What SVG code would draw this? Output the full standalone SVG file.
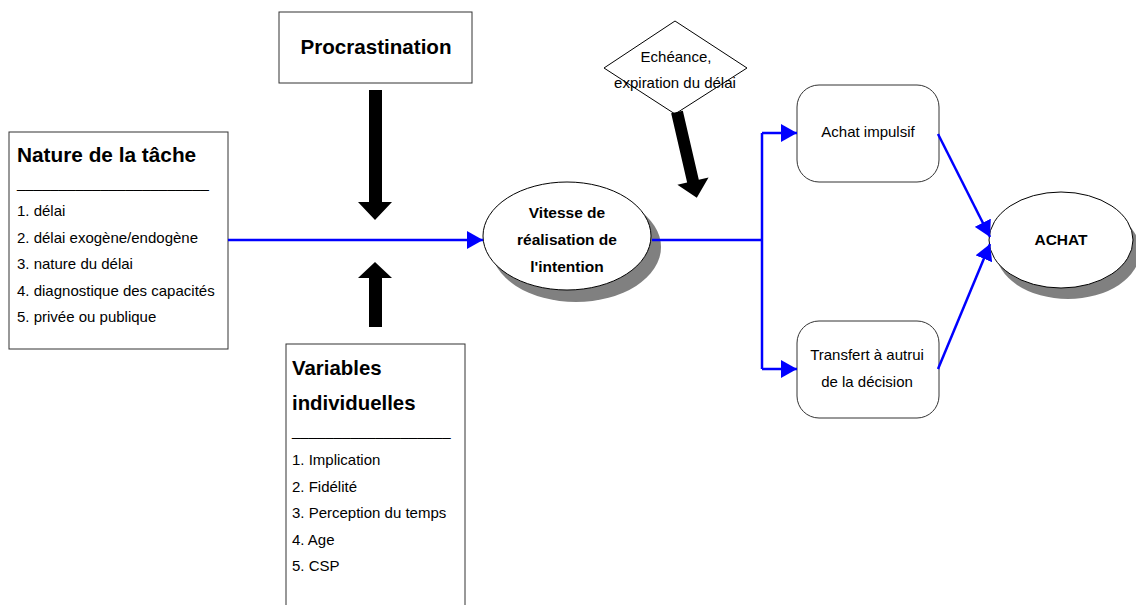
<svg xmlns="http://www.w3.org/2000/svg" width="1136" height="605" viewBox="0 0 1136 605">
<style>
  .box{fill:#fff;stroke:#333;stroke-width:1}
  .ell{fill:#fff;stroke:#000;stroke-width:1}
  .shadow{fill:#808080;stroke:none}
  .t{font-family:"Liberation Sans",Arial,sans-serif;font-size:15px;fill:#000}
  .b{font-family:"Liberation Sans",Arial,sans-serif;font-weight:bold;fill:#000}
  .c{text-anchor:middle}
  .blue{fill:none;stroke:#0000ff;stroke-width:2.5}
  .fat{fill:#000;stroke:none}
</style>
<defs>
  <marker id="ah" markerUnits="userSpaceOnUse" markerWidth="16" markerHeight="18" refX="16" refY="9" orient="auto">
    <path d="M0,0 L16,9 L0,18 Z" fill="#0000ff"/>
  </marker>
</defs>
<rect width="1136" height="605" fill="#fff"/>

<g id="nature">
  <rect class="box" x="9" y="132" width="219" height="217"/>
  <text class="b" x="17" y="162" font-size="20.8">Nature de la tâche</text>
  <text class="t" x="17" y="188">_______________________</text>
  <text class="t" x="17" y="216">1. délai</text>
  <text class="t" x="17" y="243">2. délai exogène/endogène</text>
  <text class="t" x="17" y="269">3. nature du délai</text>
  <text class="t" x="17" y="296">4. diagnostique des capacités</text>
  <text class="t" x="17" y="322">5. privée ou publique</text>
</g>

<g id="procrastination">
  <rect class="box" x="279" y="12" width="193" height="71"/>
  <text class="b c" x="376" y="54" font-size="20.6">Procrastination</text>
</g>

<g id="variables">
  <rect class="box" x="286" y="344" width="179" height="270"/>
  <text class="b" x="292" y="375" font-size="20.4">Variables</text>
  <text class="b" x="292" y="410" font-size="20.4">individuelles</text>
  <text class="t" x="292" y="436">___________________</text>
  <text class="t" x="292" y="465">1. Implication</text>
  <text class="t" x="292" y="492">2. Fidélité</text>
  <text class="t" x="292" y="518">3. Perception du temps</text>
  <text class="t" x="292" y="545">4. Age</text>
  <text class="t" x="292" y="571">5. CSP</text>
</g>

<g id="echeance">
  <polygon class="ell" points="675,21 747,68 675,114 604,68"/>
  <text class="t c" x="676" y="62">Echéance,</text>
  <text class="t c" x="675" y="88">expiration du délai</text>
</g>

<g id="vitesse">
  <ellipse class="shadow" cx="576" cy="247" rx="85" ry="55"/>
  <ellipse class="ell" cx="567" cy="236" rx="84" ry="54"/>
  <text class="b c" x="567" y="218" font-size="15.5">Vitesse de</text>
  <text class="b c" x="567" y="245" font-size="15.5">réalisation de</text>
  <text class="b c" x="567" y="272" font-size="15.5">l'intention</text>
</g>

<g id="impulsif">
  <rect class="box" x="797" y="85" width="142" height="97" rx="22" ry="22"/>
  <text class="t c" x="868" y="137">Achat impulsif</text>
</g>

<g id="transfert">
  <rect class="box" x="797" y="321" width="142" height="97" rx="22" ry="22"/>
  <text class="t c" x="867" y="360">Transfert à autrui</text>
  <text class="t c" x="867" y="387">de la décision</text>
</g>

<g id="achat">
  <ellipse class="shadow" cx="1068" cy="251" rx="72" ry="48"/>
  <ellipse class="ell" cx="1061" cy="240" rx="72" ry="48"/>
  <text class="b c" x="1061" y="245" font-size="15.5">ACHAT</text>
</g>

<g id="connectors">
  <path class="fat" d="M369,90 H382 V202 H392 L375,220 L358,202 H369 Z"/>
  <path class="fat" d="M369,327 H382 V278 H392 L375,262 L358,278 H369 Z"/>
  <path class="fat" transform="translate(677,112) rotate(-13)" d="M-6,0 H6 V71 H16 L0,88 L-16,71 H-6 Z"/>
  <path class="blue" d="M228,240 H483" marker-end="url(#ah)"/>
  <path class="blue" d="M652,240 H762"/>
  <path class="blue" d="M762,133 V369"/>
  <path class="blue" d="M762,133 H797" marker-end="url(#ah)"/>
  <path class="blue" d="M762,369 H797" marker-end="url(#ah)"/>
  <path class="blue" d="M938,134 L990,237" marker-end="url(#ah)"/>
  <path class="blue" d="M938,369 L990,244" marker-end="url(#ah)"/>
</g>
</svg>
